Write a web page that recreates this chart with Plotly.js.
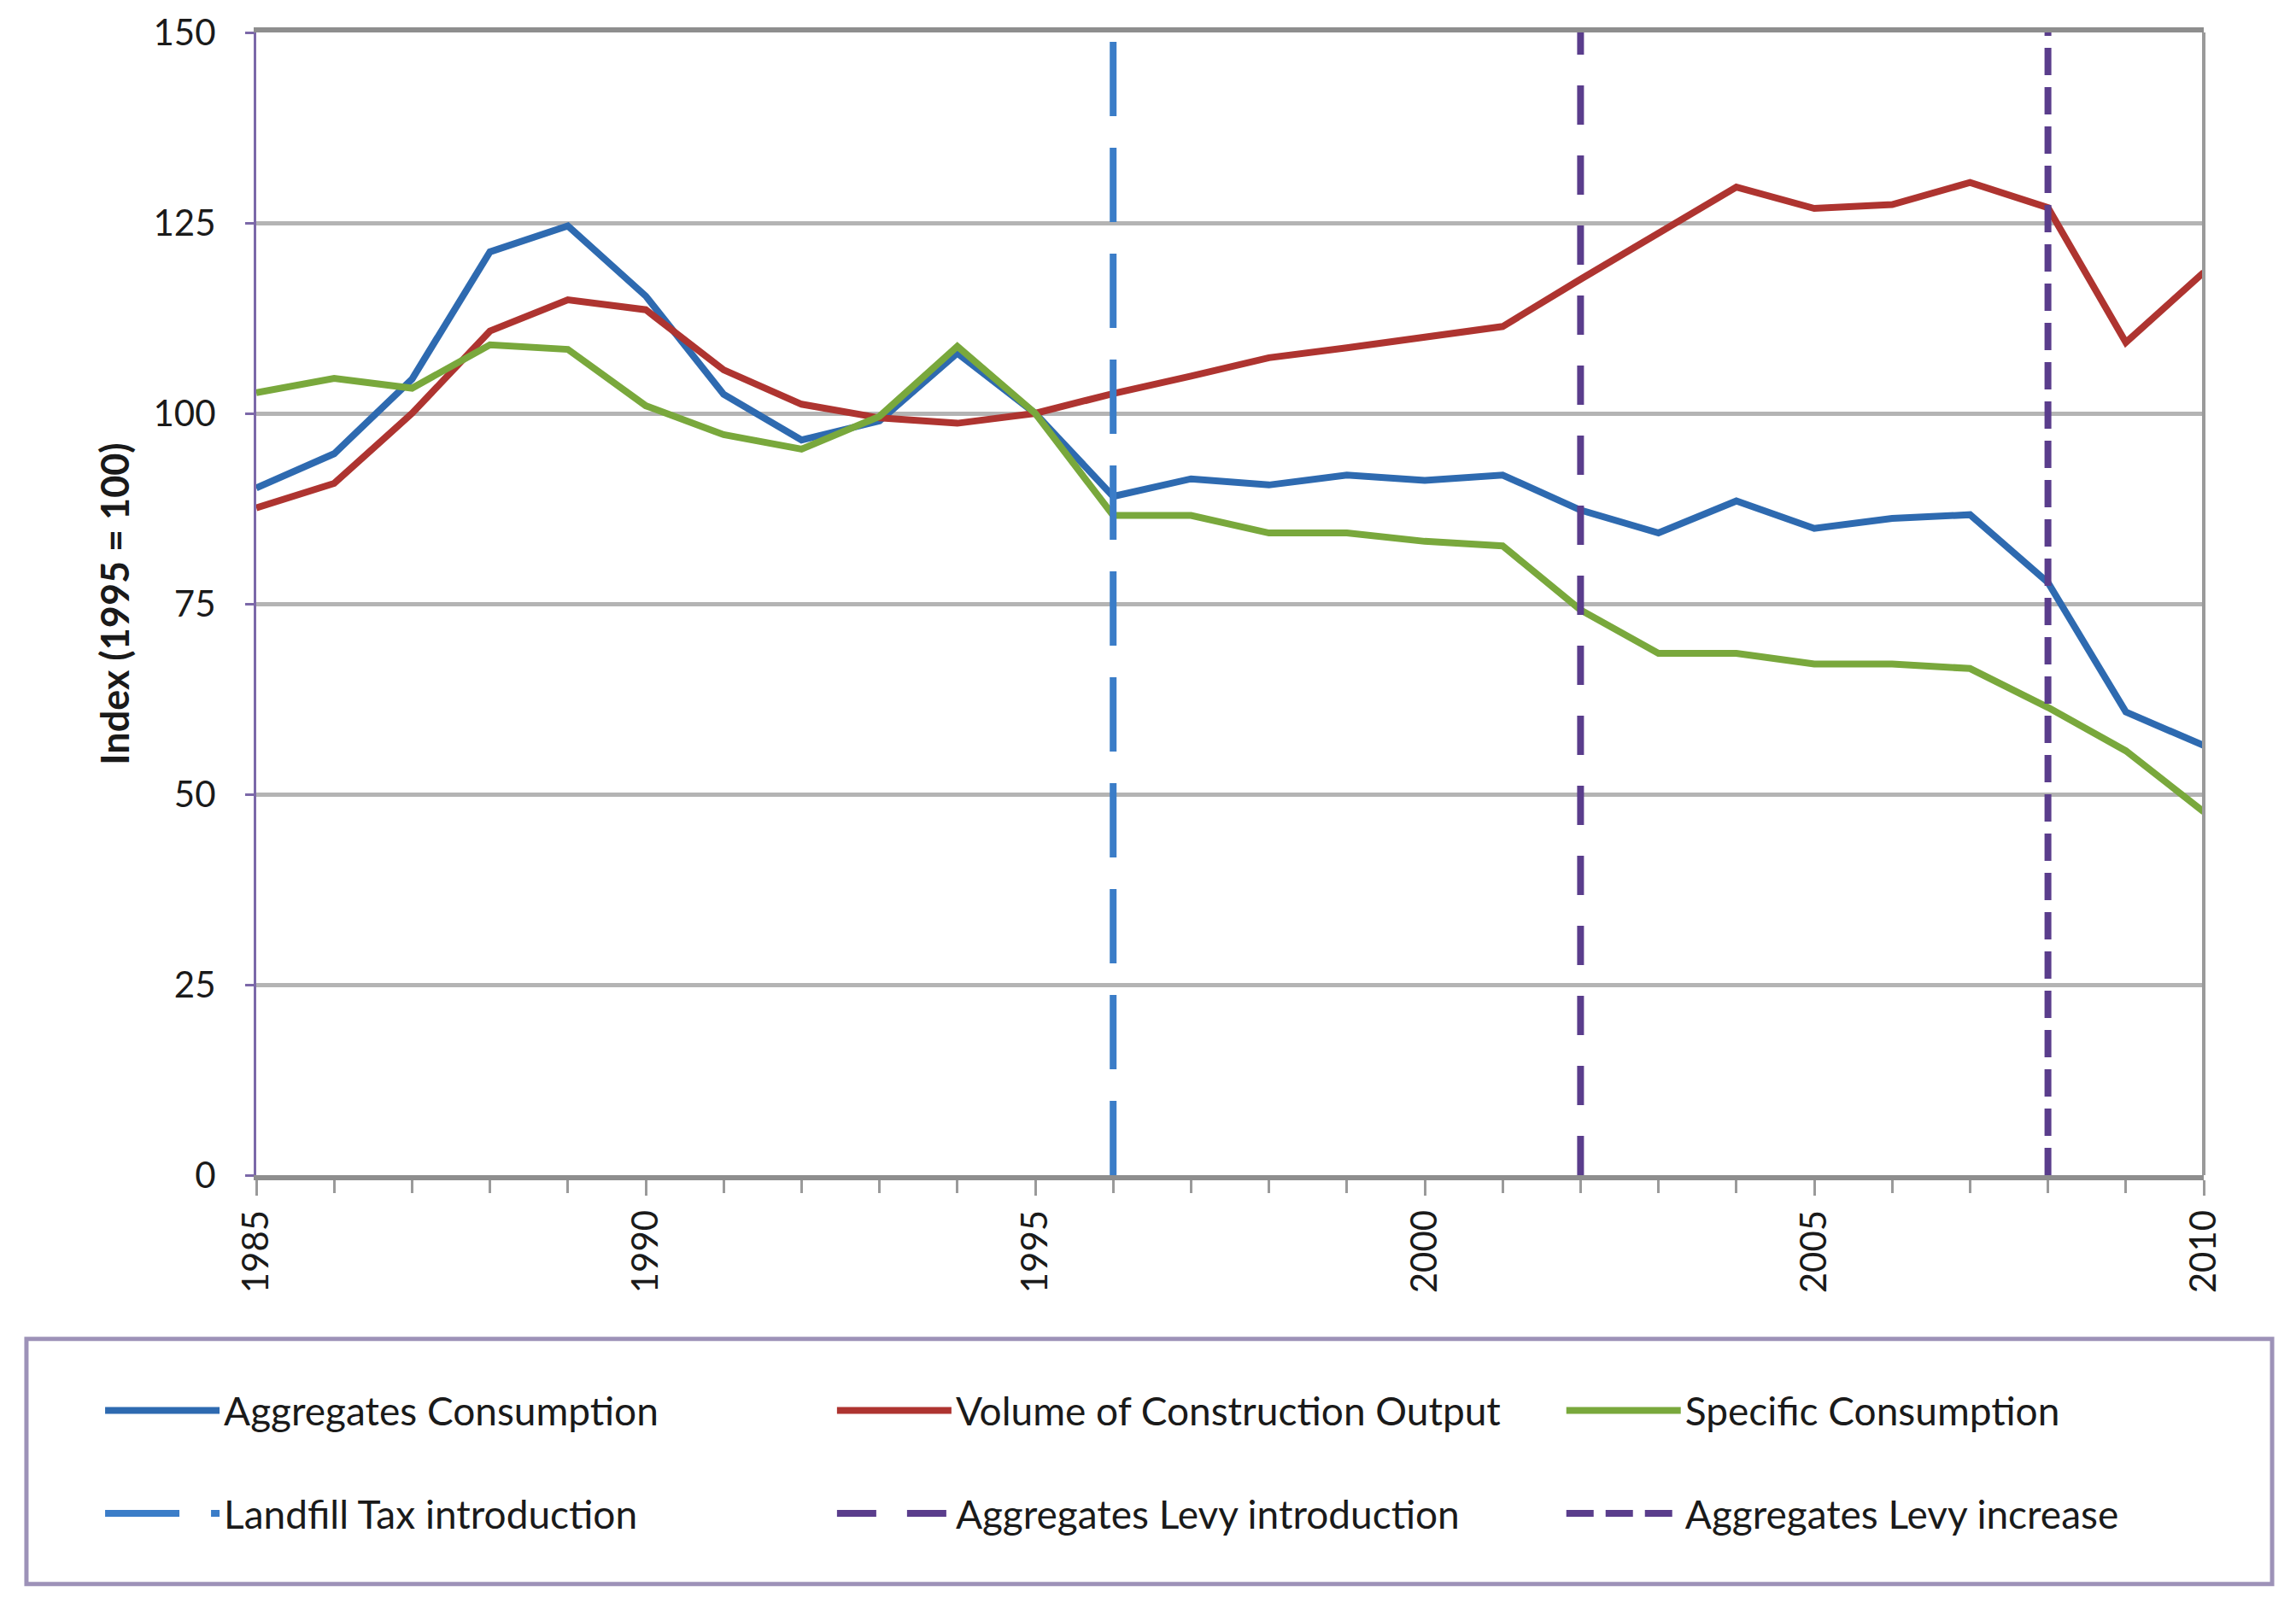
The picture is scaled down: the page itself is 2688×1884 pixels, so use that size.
<!DOCTYPE html>
<html>
<head>
<meta charset="utf-8">
<script src="https://cdn.plot.ly/plotly-3.0.1.min.js"></script>
<style>
  html, body { margin: 0; padding: 0; background: #fff; }
  #chartDiv { width: 2688px; height: 1884px; }
</style>
</head>
<body>
<div id="chartDiv"></div>
<script>
// Index values, 1995 = 100
var years = [1985, 1986, 1987, 1988, 1989, 1990, 1991, 1992, 1993, 1994, 1995, 1996, 1997,
             1998, 1999, 2000, 2001, 2002, 2003, 2004, 2005, 2006, 2007, 2008, 2009, 2010];

var aggregatesConsumption = [90.2, 94.7, 104.5, 121.2, 124.6, 115.4, 102.5, 96.5, 99, 107.9, 100, 89.1, 91.4,
                             90.6, 91.9, 91.2, 91.9, 87.3, 84.3, 88.5, 84.9, 86.2, 86.7, 77.8, 60.8, 56.4];

var constructionOutput = [87.6, 90.8, 100, 110.8, 114.9, 113.6, 105.7, 101.2, 99.4, 98.7, 100, 102.6, 104.9,
                          107.3, 108.6, 109.9, 111.4, 117.6, 123.6, 129.7, 126.9, 127.4, 130.3, 127, 109.3, 118.5];

var specificConsumption = [102.7, 104.6, 103.3, 109, 108.4, 101, 97.2, 95.3, 99.6, 108.8, 100, 86.6, 86.6,
                           84.3, 84.3, 83.2, 82.6, 74.2, 68.5, 68.5, 67.1, 67.1, 66.5, 61.4, 55.7, 47.7];

// policy events shown as vertical dashed lines
var eventYears = [1996, 2002, 2008];
var eventNames = ["Landfill Tax introduction", "Aggregates Levy introduction", "Aggregates Levy increase"];

var yRange = [0, 150];
var yTicks = [0, 25, 50, 75, 100, 125, 150];
var xTicks = [1985, 1990, 1995, 2000, 2005, 2010];

var seriesNames = ["Aggregates Consumption", "Volume of Construction Output", "Specific Consumption"];
var seriesColors = ["#2e6ab0", "#ae3430", "#79a83c"];
var eventColors = ["#3b7dc8", "#5a3d8c", "#5a3d8c"];
var eventDashes = ["87px,37px", "46px,36px", "32px,14px"];

var FONT = "Lato, 'Open Sans', sans-serif";
var TEXT = "#1a1a1a";

var seriesValues = [aggregatesConsumption, constructionOutput, specificConsumption];
var traces = [];

for (let i = 0; i < seriesValues.length; i++) {
	traces.push({
		x: years,
		y: seriesValues[i],
		type: "scatter",
		mode: "lines",
		name: seriesNames[i],
		legend: i === 0 ? "legend" : "legend" + (i + 1),
		line: {color: seriesColors[i], width: 8},
		hoverinfo: "x+y+name"
	});
}

for (let i = 0; i < eventYears.length; i++) {
	traces.push({
		x: [eventYears[i], eventYears[i]],
		y: yRange,
		type: "scatter",
		mode: "lines",
		name: eventNames[i],
		legend: "legend" + (i + 4),
		line: {color: eventColors[i], width: 8, dash: eventDashes[i]},
		hoverinfo: "name"
	});
}

// six one-entry legends laid out as a 3 x 2 grid inside the box
var colX = [-0.0798, 0.296, 0.6705];
var rowY = [-0.206, -0.296];

function legendAt(col, row) {
	return {
		x: colX[col], y: rowY[row],
		xanchor: "left", yanchor: "middle",
		orientation: "v",
		bgcolor: "rgba(0,0,0,0)",
		borderwidth: 0,
		itemwidth: 134,
		font: {family: FONT, size: 46, color: TEXT}
	};
}

var layout = {
	width: 2688,
	height: 1884,
	paper_bgcolor: "#ffffff",
	plot_bgcolor: "#ffffff",
	margin: {l: 300, r: 108, t: 38, b: 508},
	font: {family: FONT, color: TEXT},
	showlegend: true,
	legend: legendAt(0, 0),
	legend2: legendAt(1, 0),
	legend3: legendAt(2, 0),
	legend4: legendAt(0, 1),
	legend5: legendAt(1, 1),
	legend6: legendAt(2, 1),
	xaxis: {
		range: [years[0], years[years.length - 1]],
		tickvals: xTicks,
		tickangle: -90,
		ticks: "outside",
		ticklen: 18,
		tickwidth: 3,
		tickcolor: "#9a9a9a",
		minor: {dtick: 1, tick0: years[0], ticks: "outside", ticklen: 15, tickwidth: 3, tickcolor: "#9a9a9a", showgrid: false},
		showgrid: false,
		zeroline: false,
		showline: true,
		mirror: true,
		linecolor: "#8e8e8e",
		linewidth: 6,
		tickfont: {family: FONT, size: 42, color: TEXT}
	},
	yaxis: {
		range: yRange,
		tickvals: yTicks,
		ticks: "outside",
		ticklen: 10,
		tickwidth: 3,
		tickcolor: "#7b68a8",
		ticklabelstandoff: 26,
		showgrid: true,
		gridcolor: "#b4b4b4",
		gridwidth: 5,
		zeroline: false,
		showline: true,
		linecolor: "#7b68a8",
		linewidth: 3,
		tickfont: {family: FONT, size: 42, color: TEXT},
		title: {
			text: "<b>Index (1995 = 100)</b>",
			font: {family: FONT, size: 45, color: TEXT},
			standoff: 14
		}
	},
	shapes: [
		// right border of the plot area
		{type: "line", xref: "paper", yref: "paper", x0: 1, x1: 1, y0: 0, y1: 1,
		 line: {color: "#9a9a9a", width: 4}},
		// box round the legend
		{type: "rect", xref: "paper", yref: "paper",
		 x0: -0.1180, x1: 1.0351, y0: -0.1434, y1: -0.3579,
		 line: {color: "#9d92b8", width: 5}, fillcolor: "rgba(0,0,0,0)"}
	]
};

Plotly.newPlot("chartDiv", traces, layout, {displayModeBar: false, staticPlot: true});
</script>
</body>
</html>
